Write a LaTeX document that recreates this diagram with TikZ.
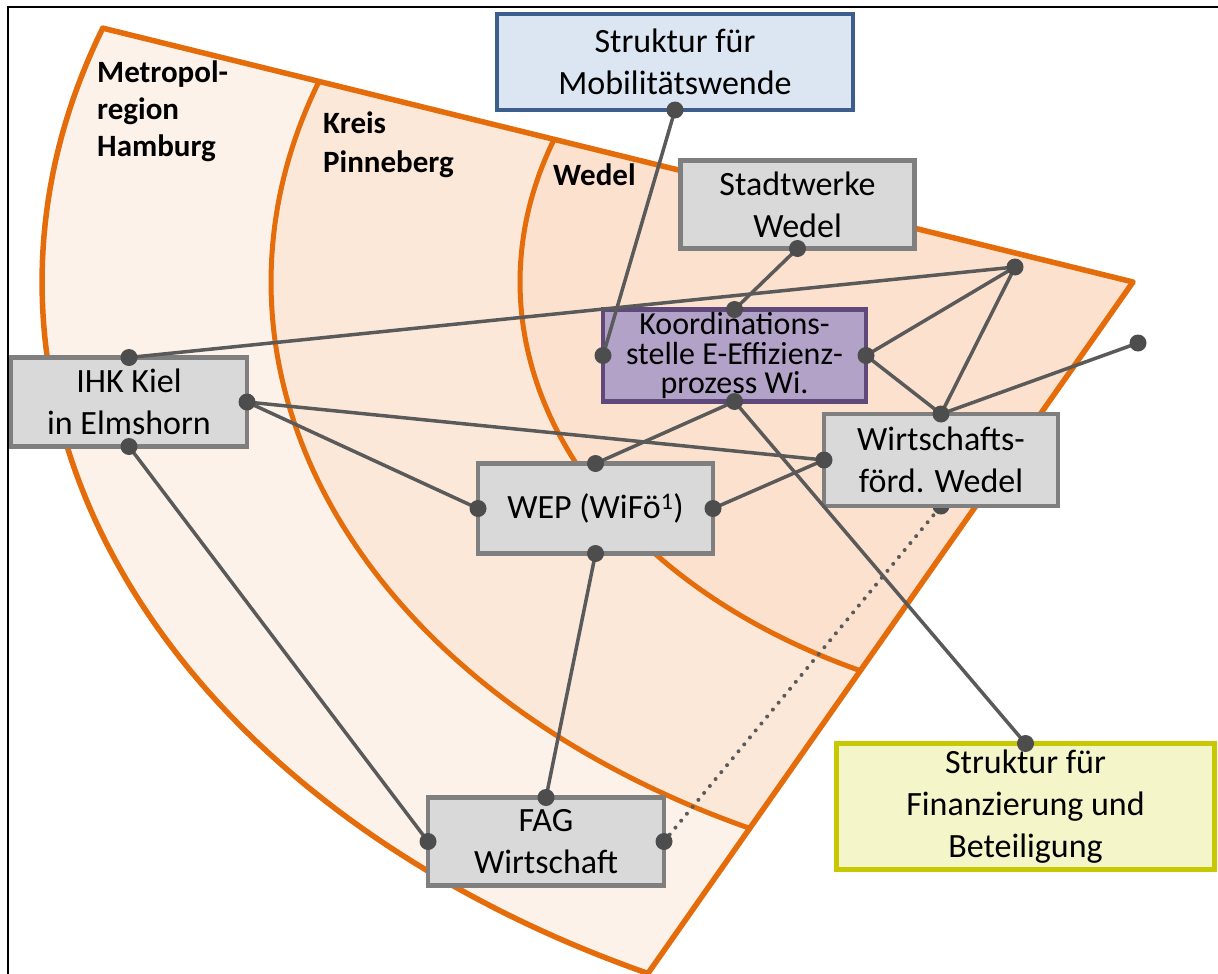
\documentclass[tikz,border=0pt]{standalone}
\usepackage{fontspec}
\setmainfont{Carlito}
\definecolor{fanorange}{HTML}{E46C0A}
\definecolor{outerfill}{HTML}{FDF2E9}
\definecolor{midfill}{HTML}{FCE8D9}
\definecolor{innerfill}{HTML}{FCE2CE}
\definecolor{boxgray}{HTML}{7F7F7F}
\definecolor{boxfill}{HTML}{D9D9D9}
\definecolor{bluefill}{HTML}{DCE6F2}
\definecolor{blueline}{HTML}{3B5E8C}
\definecolor{purplefill}{HTML}{B3A2C7}
\definecolor{purpleline}{HTML}{5F497A}
\definecolor{yellowfill}{HTML}{F5F5CA}
\definecolor{yellowline}{HTML}{C8C800}
\definecolor{conncol}{HTML}{5A5A5A}
\definecolor{dotcol}{HTML}{4D4D4D}
\begin{document}
\begin{tikzpicture}[x=1pt,y=-1pt,
  box/.style={draw, line width=4.5pt, outer sep=0pt, inner sep=0pt, align=center,
    font=\fontsize{34}{42}\selectfont},
  graybox/.style={box, draw=boxgray, fill=boxfill},
  bluebox/.style={box, draw=blueline, fill=bluefill},
  purplebox/.style={box, draw=purpleline, fill=purplefill},
  yellowbox/.style={box, draw=yellowline, fill=yellowfill},
  conn/.style={draw=conncol, line width=3.5pt},
  dotconn/.style={draw=conncol, line width=4pt, line cap=round, dash pattern=on 0pt off 9pt},
  region/.style={font=\bfseries\fontsize{31}{37}\selectfont, align=left, anchor=north west, inner sep=0pt},
  fanline/.style={draw=fanorange, line width=5pt, line join=round},
  knot/.style={fill=dotcol}
]
\useasboundingbox (0,0) rectangle (1218,974);
\fill[white] (0,0) rectangle (1218,974);
\def\cx{1133}\def\cy{282}
% fan fills
\fill[outerfill] (\cx,\cy) -- plot[domain=199.2:116.4, samples=90] ({\cx+1091*cos(\x)},{\cy+772*sin(\x)}) -- cycle;
\fill[midfill] (\cx,\cy) -- plot[domain=199.2:116.4, samples=90] ({\cx+862*cos(\x)},{\cy+610*sin(\x)}) -- cycle;
\fill[innerfill] (\cx,\cy) -- plot[domain=199.2:116.4, samples=90] ({\cx+613*cos(\x)},{\cy+434*sin(\x)}) -- cycle;
% fan strokes
\draw[fanline] plot[domain=199.2:116.4, samples=90] ({\cx+862*cos(\x)},{\cy+610*sin(\x)});
\draw[fanline] plot[domain=199.2:116.4, samples=90] ({\cx+613*cos(\x)},{\cy+434*sin(\x)});
\draw[fanline, line width=5.5pt] (\cx,\cy) -- plot[domain=199.2:116.4, samples=90] ({\cx+1091*cos(\x)},{\cy+772*sin(\x)}) -- cycle;
% frame
\draw[line width=2.5pt, black] (8,974) -- (8,7) -- (1218,7);
% region labels
\node[region] (lmet) at (97,61) {Metropol-\\region\\Hamburg};
\node[region, font=\bfseries\fontsize{31}{39}\selectfont] (lkreis) at (323,112) {Kreis\\Pinneberg};
\node[region] (lwedel) at (553,164) {Wedel};
% dotted connector (behind boxes)
\coordinate (wfs) at (941,506);
\coordinate (fage) at (664,841.5);
\draw[dotconn] (fage) -- (wfs);
\fill[knot] (wfs) circle[radius=8.5pt];
% boxes
\node[bluebox, minimum width=356pt, minimum height=96pt] (mob) at (675,62) {Struktur für\\Mobilitätswende};
\node[graybox, minimum width=234pt, minimum height=88pt] (stadt) at (797.5,204.5) {Stadtwerke\\Wedel};
\node[purplebox, minimum width=263pt, minimum height=92pt, font=\fontsize{32}{29.5}\selectfont] (koord) at (734.5,355.5) {Koordinations-\\stelle E-Effizienz-\\prozess Wi.};
\node[graybox, minimum width=234pt, minimum height=92pt] (wf) at (941,460) {Wirtschafts-\\förd. Wedel};
\node[graybox, minimum width=236pt, minimum height=89pt] (ihk) at (129,402) {IHK Kiel\\in Elmshorn};
\node[graybox, minimum width=235pt, minimum height=90pt] (wep) at (595.5,508.5) {WEP (WiFö\textsuperscript{1})};
\node[graybox, minimum width=236pt, minimum height=88pt] (fag) at (546,841.5) {FAG\\Wirtschaft};
\node[yellowbox, minimum width=378pt, minimum height=126pt] (fin) at (1025.5,806.5) {Struktur für\\Finanzierung und\\Beteiligung};
% free end points
\coordinate (f1) at (1015,267);
\coordinate (f2) at (1138,343);
% connectors
\draw[conn] (mob.south) -- (koord.west);
\draw[conn] (stadt.south) -- (koord.north);
\draw[conn] (ihk.north) -- (f1);
\draw[conn] (koord.east) -- (f1);
\draw[conn] (koord.east) -- (wf.north);
\draw[conn] (wf.north) -- (f1);
\draw[conn] (wf.north) -- (f2);
\draw[conn] (ihk.east) -- (wep.west);
\draw[conn] (ihk.east) -- (wf.west);
\draw[conn] (wep.north) -- (koord.south);
\draw[conn] (wep.east) -- (wf.west);
\draw[conn] (koord.south) -- (fin.north);
\draw[conn] (wep.south) -- (fag.north);
\draw[conn] (ihk.south) -- (fag.west);
% knots
\foreach \p in {mob.south, koord.west, stadt.south, koord.north, ihk.north, f1, koord.east,
  wf.north, f2, ihk.east, wep.west, wf.west, wep.north, koord.south, wep.east, fin.north,
  wep.south, fag.north, ihk.south, fag.west, fag.east}
  \fill[knot] (\p) circle[radius=8.5pt];
\end{tikzpicture}
\end{document}
